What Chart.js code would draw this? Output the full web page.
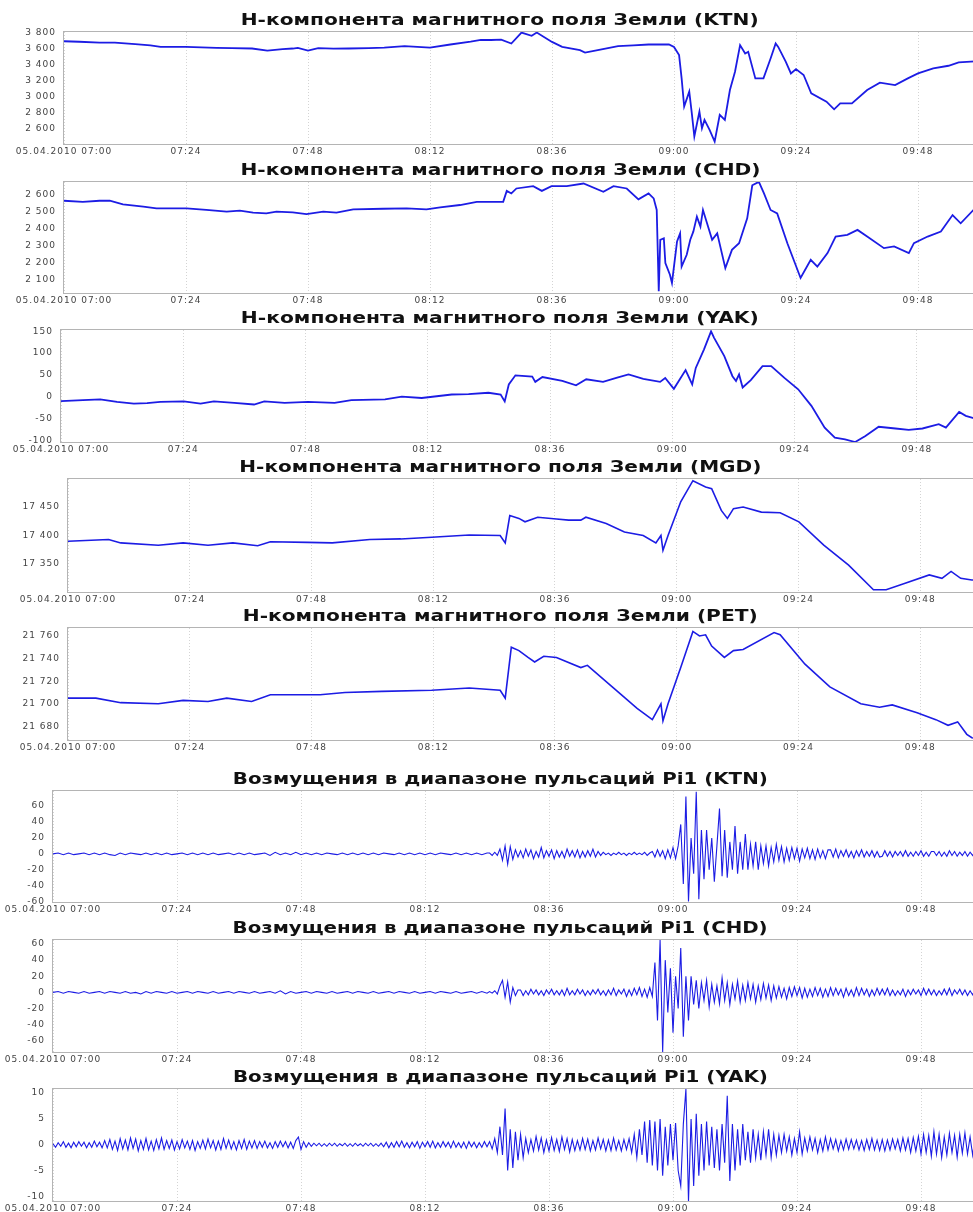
<!DOCTYPE html>
<html>
<head>
<meta charset="utf-8">
<script src="https://cdn.jsdelivr.net/npm/chart.js@4.4.0/dist/chart.umd.min.js"></script>
<style>
html, body { margin: 0; padding: 0; background: #fff; }
body { position: relative; width: 973px; height: 1212px; overflow: hidden; }
.panel { position: absolute; left: 0; }
.title { position: absolute; white-space: nowrap; font: bold 15px "DejaVu Sans", sans-serif; color: #111; line-height: 18px; transform-origin: center center; }
</style>
</head>
<body>
<script>
// time axis: minutes after 05.04.2010 07:00
const xTickValues = [0, 24, 48, 72, 96, 120, 144, 168];
const xTickLabels = ['05.04.2010 07:00', '07:24', '07:48', '08:12', '08:36', '09:00', '09:24', '09:48'];

const titles = [
  'H-компонента магнитного поля Земли (KTN)',
  'H-компонента магнитного поля Земли (CHD)',
  'H-компонента магнитного поля Земли (YAK)',
  'H-компонента магнитного поля Земли (MGD)',
  'H-компонента магнитного поля Земли (PET)',
  'Возмущения в диапазоне пульсаций Pi1 (KTN)',
  'Возмущения в диапазоне пульсаций Pi1 (CHD)',
  'Возмущения в диапазоне пульсаций Pi1 (YAK)'
];

// H-component, [minute, nT]
const ktnH = [[0,3690],[3,3684],[7,3674],[10,3672],[14,3654],[17,3640],[19,3620],[24,3620],[27,3614],[30,3608],[33,3604],[37,3600],[40,3575],[43,3592],[45,3600],[46,3608],[48,3575],[50,3604],[53,3598],[56,3600],[60,3606],[63,3612],[67,3630],[72,3612],[76,3650],[80,3686],[82,3707],[84,3706],[86,3711],[88,3662],[90,3798],[92,3757],[93,3798],[96,3682],[98,3620],[101.5,3580],[102.5,3550],[105,3580],[109,3630],[112,3640],[115,3650],[119,3650],[120,3620],[121,3518],[121.5,3229],[122,2880],[123,3065],[123.5,2797],[124,2508],[125,2818],[125.5,2611],[126,2714],[127,2590],[128,2446],[129,2776],[130,2714],[131,3085],[132,3312],[133,3642],[134,3538],[134.6,3559],[136,3229],[137.6,3229],[139,3476],[140,3662],[140.5,3620],[142,3435],[143,3291],[144,3345],[145.5,3271],[147,3044],[150,2941],[151.5,2846],[152.7,2920],[155,2920],[158,3085],[160.5,3176],[163.5,3147],[166,3230],[168,3291],[171,3353],[174,3386],[176,3427],[180,3443]];

const chdH = [[0,2563],[3.7,2557],[7,2563],[9,2563],[11.6,2542],[15.6,2528],[18.2,2518],[24.1,2518],[28,2509],[32,2499],[34.6,2505],[37.2,2493],[39.8,2489],[41.8,2499],[45,2495],[47.7,2485],[51,2499],[53.6,2493],[56.9,2512],[62.8,2516],[67.4,2518],[71.3,2512],[74,2524],[77.9,2538],[81.2,2557],[86.4,2557],[87.1,2621],[88,2606],[89,2635],[92.3,2649],[94,2621],[95.9,2649],[98.9,2649],[102.2,2664],[106.1,2616],[108.1,2649],[110.7,2635],[113,2571],[115,2606],[116,2577],[116.6,2509],[117,2032],[117.3,2334],[118,2343],[118.3,2197],[119.2,2129],[119.6,2081],[120.6,2324],[121.2,2372],[121.5,2177],[122.5,2246],[123.2,2334],[123.8,2382],[124.5,2470],[125.2,2411],[125.7,2509],[126.5,2431],[127.5,2334],[128.5,2372],[130.1,2168],[131.4,2275],[132.8,2314],[134.4,2460],[135.4,2654],[136.7,2674],[137.7,2606],[139,2509],[140.3,2489],[142.3,2314],[144.9,2110],[146.9,2217],[148.2,2177],[150.2,2256],[151.8,2353],[154.1,2363],[156.1,2392],[158,2353],[161.3,2285],[163.3,2295],[166.2,2256],[167.2,2314],[169.9,2353],[172.5,2382],[174.8,2479],[176.4,2431],[179,2512],[180,2520]];

const yakH = [[0,-10],[4.3,-8],[7.7,-6],[11,-12],[14.3,-16],[16.9,-15],[19.5,-12],[24.1,-11],[27.4,-16],[30,-11],[34,-14],[37.9,-18],[39.9,-11],[43.9,-14],[48.5,-12],[53.7,-14],[57,-8],[63.6,-6],[66.9,0],[70.8,-3],[76.7,5],[80,6],[83.9,9],[86.3,5],[87.1,-11],[87.9,28],[89.2,49],[92.5,46],[93.1,34],[94.5,45],[98.4,36],[101.1,26],[103.1,40],[106.4,34],[109,43],[111.4,51],[114.3,41],[117.6,34],[118.6,43],[120.3,18],[122.6,61],[123.9,28],[124.6,66],[126.2,108],[127.6,150],[128.2,135],[130.2,93],[131.8,47],[132.5,36],[133.1,51],[133.8,21],[135.4,38],[137.7,70],[139.4,70],[142,43],[144.7,17],[147.3,-21],[149.9,-71],[151.9,-94],[153.9,-98],[155.9,-104],[157.9,-90],[160.5,-69],[163.8,-73],[166.4,-76],[169.1,-73],[172.3,-63],[173.7,-71],[176.3,-35],[177.6,-44],[180,-52]];

const mgdH = [[0,17390],[8,17393],[10.4,17387],[17.8,17383],[22.7,17387],[27.6,17383],[32.5,17387],[37.4,17382],[39.9,17389],[47.2,17388],[52.1,17387],[59.5,17393],[65.6,17394],[71.7,17397],[79.1,17401],[85.2,17400],[86.2,17387],[87.1,17435],[88.9,17430],[90.1,17424],[92.6,17432],[96.3,17429],[98.7,17427],[101.1,17427],[102.1,17432],[106.1,17421],[109.7,17406],[113.4,17400],[115.9,17387],[116.9,17400],[117.3,17374],[118.3,17400],[120.8,17459],[123.2,17496],[125.7,17485],[126.9,17482],[128.8,17444],[130,17430],[131.2,17447],[133.1,17450],[136.7,17441],[140.4,17440],[144.1,17424],[149,17383],[153.9,17348],[158.8,17305],[161.3,17305],[164.9,17316],[169.8,17331],[172.3,17325],[174.1,17337],[176,17325],[178.2,17322],[180,17322]];

const petH = [[0,21705],[5.5,21705],[10.4,21701],[17.8,21700],[22.7,21703],[27.6,21702],[31.3,21705],[36.2,21702],[39.9,21708],[49.7,21708],[54.6,21710],[61.9,21711],[71.7,21712],[79.1,21714],[85.2,21712],[86.2,21705],[87.4,21750],[88.9,21747],[90.7,21741],[92,21737],[93.8,21742],[96.3,21741],[101.1,21732],[102.4,21734],[107.3,21715],[112.2,21696],[115.2,21686],[116.9,21700],[117.3,21685],[118.3,21700],[120.8,21732],[123.2,21764],[124.5,21760],[125.7,21761],[126.9,21751],[129.4,21741],[131.2,21747],[133.1,21748],[139.2,21763],[140.4,21761],[145.3,21735],[150.2,21715],[156.3,21700],[160,21697],[162.5,21699],[167.4,21692],[171.1,21686],[173.5,21681],[175.4,21684],[177.2,21673],[178.2,21670],[180,21669]];

// Pi1 band: quiet part from 07:00 (KTN, CHD every minute, YAK every half minute), active part every half minute from 08:24:30
const ktnPiQuiet = [0,1,-1,1,-1,0,1,-1,1,-1, 1,-1,-2,1,-1,1,0,-1,1,-1, 1,-1,1,-1,0,1,-1,1,-1,1, -1,1,-1,0,1,-1,1,-1,1,-1, 0,1,-2,2,-1,1,-1,2,-1,1, -1,1,-1,1,0,-1,1,-1,1,-1, 1,-1,1,-1,1,0,-1,1,-1,1, -1,1,-1,1,-1,1,0,-1,1,-1, 1,-1,1,-1,1];
const ktnPiActive = [1,-2,2,-2, 6,-8,10,-13,9,-7,5,-4,
  4,-5,6,-3,5,-6,3,-4, 8,-5,4,-3,5,-6,4,-4, 3,-5,6,-3,4,-4,5,-5, 3,-4,4,-3,6,-4,3,-2,
  2,-1,1,-2,1,-1,2,-1,1,-2,1,-1,2,-1,1,-1,2,-2,1,
  3,-4,5,-3,4,-6,5,-5,8,-6,10,
  37,-38,72,-60,20,-25,78,-57,30,-32, 30,-20,20,-35,10,57,-28,30,-30,15, -20,35,-25,15,-20,25,-20,12,-15,15, -20,10,-12,10,-15,8,-10,12,
  -8,9,-10,7,-8,8,-6,7,-9,6,-5,7,-6,5,-7,6,-5,4,-6,5,
  5,-4,6,-5,4,-3,5,-4,3,-5,4,-3,5,-4,3,-3,4,-4,3,-4,
  -3,4,-3,3,-4,3,-2,3,-3,4,-3,2,-3,3,-2,4,-3,2,-3,3,
  3,-2,3,-3,2,-3,4,-2,3,-3,2,-2,3,-3,2,-2,3,-2,1,-1];

const chdPiQuiet = [0,1,-1,1,0,-1,1,-1,0,1, -1,1,0,-1,1,-1,0,-2,1,-1, 1,0,-1,1,-1,0,1,-1,1,0, -1,1,-1,0,1,-1,1,0,-1,1, -1,0,1,-1,2,-2,1,-1,0,1, -1,1,0,-1,1,-1,0,1,-1,1, 0,-1,1,-1,0,1,-1,1,0,-1, 1,-1,0,1,-1,1,0,-1,1,-1, 0,1,-1,1,-1];
const chdPiActive = [1,-1,2,-2, 8,15,-6,13,-12,6,-4,3,
  3,-4,2,-3,4,-2,3,-3,2,-4, 3,-2,4,-3,2,-3,3,-4,5,-3, 2,-3,4,-2,3,-4,2,-3,3,-2, 4,-3,2,-4,3,-3,5,-4,3,-2, 4,-5,3,-4,5,-3,6,-5,4,-6,
  6,-5,
  37,-35,65,-74,40,-25,30,-50,20,-20,55,-55,20,-35,20,-15,15,-20,
  12,-10,15,-18,10,-12,8,-14,18,-10,12,-15,10,-8,14,-12,9,-10,12,-8,10,-12,8,-9,11,-7,9,-10,8,-7,
  7,-6,5,-8,6,-5,7,-4,6,-7,5,-6,4,-5,6,-4,5,-6,4,-5, 6,-4,5,-3,4,-6,5,-4,3,-5,6,-4,5,-3,4,-5,3,-4,5,-3,
  4,-3,5,-4,3,-4,2,-3,4,-5,3,-3,4,-2,3,-4,5,-3,4,-3, 3,-4,2,-3,4,-3,5,-4,3,-2,4,-3,3,-4,2,-3,4,-3,3,-2];

const yakPiQuiet = [0.2,-0.5,0.4,-0.3,0.6,-0.5,0.3,-0.6,0.5,-0.4, 0.6,-0.3,0.5,-0.6,0.4,-0.5,0.7,-0.4,0.5,-0.6,
  0.8,-0.6,1.0,-0.9,0.7,-1.1,1.2,-0.8,0.9,-1.0,1.3,-0.7, 1.1,-1.2,0.8,-0.9,1.2,-1.0,0.7,-1.1,1.0,-0.8,1.3,-0.9,
  0.8,-0.7,0.9,-1.0,0.6,-0.8,1.0,-0.6,0.7,-0.9,0.8,-1.1, 0.6,-0.7,0.9,-0.8,1.1,-0.6,0.8,-1.0,0.7,-0.9,1.2,-0.7, 0.9,-0.8,0.6,-1.0,0.8,-0.7,1.0,-0.9,0.7,-0.6,0.8,-0.7,
  0.6,-0.5,0.7,-0.6,0.4,-0.7,0.6,-0.5,0.7,-0.4, 0.6,-0.6,0.5,-0.7,0.8,1.5,-0.9,0.6,-0.5,0.4,
  -0.3,0.3,-0.2,0.3,-0.3,0.2,-0.3,0.3,-0.2,0.3,-0.3,0.2,-0.2,0.3, -0.3,0.2,-0.3,0.3,-0.2,0.2,-0.3,0.3,-0.2,0.3,-0.3,0.2,-0.3,0.3,
  -0.4,0.5,-0.6,0.4,-0.5,0.6,-0.4,0.7,-0.5,0.4, -0.6,0.5,-0.4,0.6,-0.7,0.5,-0.4,0.6,-0.5,0.7, -0.6,0.4,-0.5,0.6,-0.4,0.5,-0.6,0.7,-0.5,0.4, -0.6,0.5,-0.7,0.6,-0.4,0.5,-0.6,0.4,-0.5,0.6,-0.4];
const yakPiActive = [0.6,-0.8,1.2,-1.5,
  3.5,-2,7,-5,3,-4.5,2.5,-3,2,-2.5,
  1.2,-1.5,1,-1.2,1.6,-1,1.3,-1.5,0.9,-1.2, 1.4,-1.1,1,-1.3,1.5,-0.9,1.2,-1.4,1,-1.1, 0.8,-1,1.2,-0.9,1.1,-1.2,0.8,-1,1.3,-0.8, 1,-1.2,0.9,-1.1,1.3,-1,0.8,-1.2,1,-0.9, 1.2,-1.5,2,-2.5,3,-2,4.5,-3.5,4.8,-4,
  4.5,-5,5,-6,3.5,-4,4,-3,4.2,-5,
  -8,4,10.8,-11,5,-8,6,-6,4,-5,4.5,-4,3.5,-4.5,3,-5,4,-3.5,
  9.5,-7,4,-5,3,-4,4,-3,2.5,-3.5,3,-2.5,2,-3,2.5,-2,3,-2.5,2,-2,
  1.8,-1.5,2,-1.2,1.5,-2,1.2,-1.5,2.5,-1.8,1.3,-1.2,1.5,-1,1.2,-1.5,1,-1.2,1.5,-1, 1.2,-0.8,1,-1.2,0.8,-1,1.1,-0.9,1,-0.8, 0.9,-1,0.8,-1.1,1,-0.9,1.2,-1,0.9,-1.1,
  1,-1.2,0.9,-1,1.1,-0.8,1,-1.2,1.3,-1, 1.2,-1.5,1.4,-1.2,1.6,-1.8,2,-1.5,1.8,-2.2, 2.5,-1.8,2,-2.5,1.5,-2,2.2,-1.5,1.8,-2.4, 2,-1.6,2.3,-1.8,1.5,-2,1.8,-1.5,2,-1.2];

// y tick values per panel
const ktnTicks = [2600, 2800, 3000, 3200, 3400, 3600, 3800];
const chdTicks = [2100, 2200, 2300, 2400, 2500, 2600];
const yakTicks = [-100, -50, 0, 50, 100, 150];
const mgdTicks = [17350, 17400, 17450];
const petTicks = [21680, 21700, 21720, 21740, 21760];
const piBigTicks = [-60, -40, -20, 0, 20, 40, 60];
const piSmallTicks = [-10, -5, 0, 5, 10];

const QUIET_END = 84, ACTIVE_STEP = 0.5;
function piSeries(quiet, quietStep, active) {
  const pts = quiet.map((v, i) => [i * quietStep, v]);
  active.forEach((v, i) => pts.push([QUIET_END + (i + 1) * ACTIVE_STEP, v]));
  return pts;
}

function fmt(v) {
  let s = String(Math.abs(v));
  if (Math.abs(v) >= 1000) s = s.replace(/\B(?=(\d{3})+(?!\d))/g, ' ');
  return (v < 0 ? '-' : '') + s;
}

const panels = [
  { data: ktnH, ticks: ktnTicks, min: 2415, max: 3805, left: 64, right: 979, top: 32, bottom: 144, lw: 1.8, tw: 518 },
  { data: chdH, ticks: chdTicks, min: 2022, max: 2673, left: 64, right: 979, top: 182, bottom: 293, lw: 1.8, tw: 520 },
  { data: yakH, ticks: yakTicks, min: -104, max: 153, left: 61, right: 978, top: 330, bottom: 442, lw: 1.8, tw: 518 },
  { data: mgdH, ticks: mgdTicks, min: 17301, max: 17499, left: 68, right: 981, top: 479, bottom: 592, lw: 1.6, tw: 522 },
  { data: petH, ticks: petTicks, min: 21668, max: 21767, left: 68, right: 981, top: 628, bottom: 740, lw: 1.6, tw: 515 },
  { data: piSeries(ktnPiQuiet, 1, ktnPiActive), ticks: piBigTicks, min: -60.5, max: 79, left: 53, right: 983, top: 791, bottom: 902, lw: 1.1, tw: 535 },
  { data: piSeries(chdPiQuiet, 1, chdPiActive), ticks: piBigTicks, min: -74, max: 65, left: 53, right: 983, top: 940, bottom: 1052, lw: 1.1, tw: 535 },
  { data: piSeries(yakPiQuiet, 0.5, yakPiActive), ticks: piSmallTicks, min: -10.9, max: 10.8, left: 53, right: 983, top: 1089, bottom: 1201, lw: 1.1, tw: 535 }
];

const framePlugin = {
  id: 'frame',
  beforeUpdate(chart) { chart.ctx.letterSpacing = '1px'; },
  beforeDraw(chart) { chart.ctx.letterSpacing = '1px'; },
  beforeDatasetsDraw(chart) {
    const a = chart.chartArea, ctx = chart.ctx;
    ctx.save();
    ctx.strokeStyle = '#b4b4b4';
    ctx.lineWidth = 1;
    ctx.strokeRect(a.left - 0.5, a.top - 0.5, a.right - a.left + 1, a.bottom - a.top + 1);
    ctx.restore();
  }
};

const PAD_TOP = 6, X_AXIS_H = 16;
const tickFont = { family: 'DejaVu Sans', size: 9 };

panels.forEach((p, i) => {
  const wrap = document.createElement('div');
  wrap.className = 'panel';
  wrap.style.top = (p.top - PAD_TOP) + 'px';
  const canvas = document.createElement('canvas');
  canvas.width = p.right;
  canvas.height = p.bottom - p.top + PAD_TOP + X_AXIS_H;
  wrap.appendChild(canvas);
  document.body.appendChild(wrap);

  // title: real text, stretched to the width it has in the reference
  const t = document.createElement('div');
  t.className = 'title';
  t.textContent = titles[i];
  document.body.appendChild(t);
  const natural = t.getBoundingClientRect().width;
  t.style.left = (500 - natural / 2) + 'px';
  t.style.top = (p.top - 12 - 9) + 'px';
  t.style.transform = 'scaleX(' + (p.tw / natural) + ')';

  new Chart(canvas, {
    type: 'line',
    data: {
      datasets: [{
        data: p.data,
        borderColor: '#1c1ce4',
        borderWidth: p.lw,
        pointRadius: 0,
        tension: 0,
        fill: false
      }]
    },
    options: {
      responsive: false,
      animation: false,
      devicePixelRatio: 1,
      layout: { padding: { top: PAD_TOP, left: 0, right: 0, bottom: 0 } },
      plugins: { legend: { display: false }, tooltip: { enabled: false }, title: { display: false } },
      scales: {
        x: {
          type: 'linear',
          min: 0,
          max: 180,
          afterBuildTicks: s => { s.ticks = xTickValues.map(v => ({ value: v })); },
          afterFit: s => { s.height = X_AXIS_H; s.paddingLeft = 0; s.paddingRight = 0; },
          grid: { color: '#d4d4d4', drawTicks: false, lineWidth: 1 },
          border: { display: false, dash: [1, 2] },
          ticks: {
            font: tickFont, color: '#444', padding: 2, maxRotation: 0, autoSkip: false,
            callback: v => xTickLabels[xTickValues.indexOf(v)]
          }
        },
        y: {
          min: p.min,
          max: p.max,
          afterBuildTicks: s => { s.ticks = p.ticks.map(v => ({ value: v })); },
          afterFit: s => { s.width = p.left; s.paddingTop = 0; s.paddingBottom = 0; },
          grid: { display: false, drawTicks: false },
          border: { display: false },
          ticks: { font: tickFont, color: '#444', padding: 8, callback: v => fmt(v) }
        }
      }
    },
    plugins: [framePlugin]
  });
});
</script>
</body>
</html>
